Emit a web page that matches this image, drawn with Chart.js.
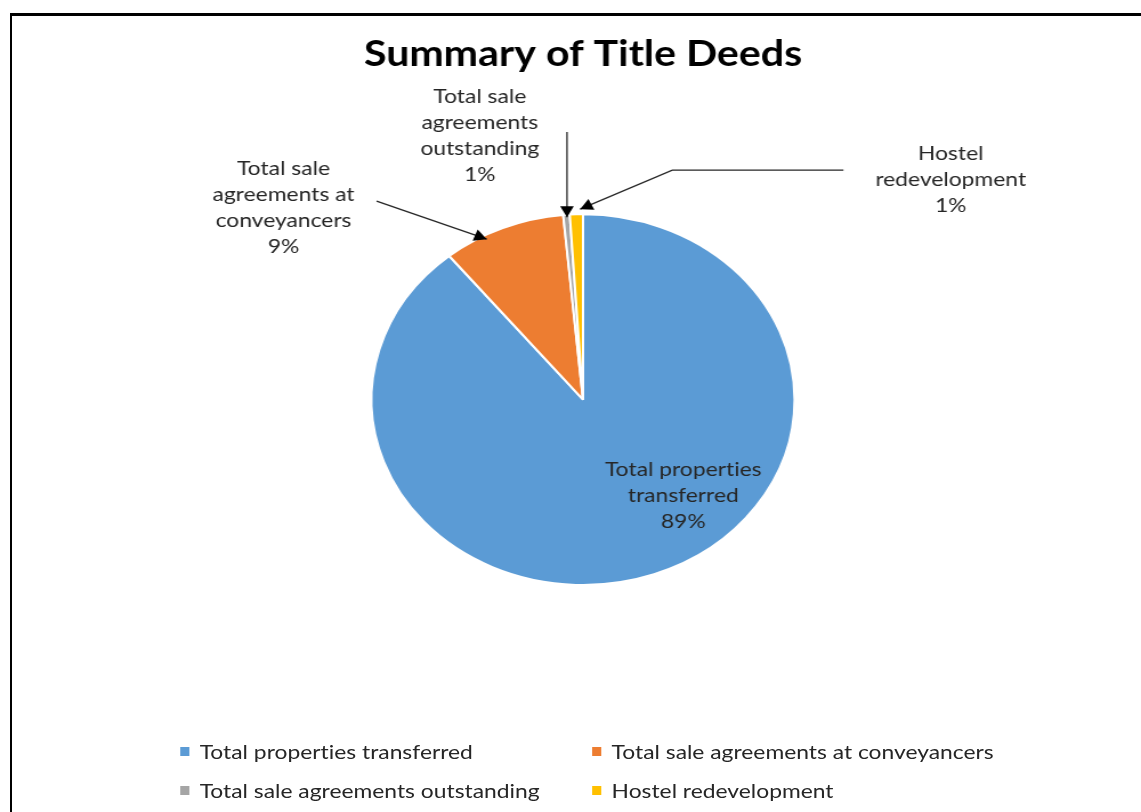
<!DOCTYPE html>
<html>
<head>
<meta charset="utf-8">
<script src="https://cdn.jsdelivr.net/npm/chart.js@4/dist/chart.umd.min.js"></script>
<style>
  html, body { margin: 0; padding: 0; background: #fff; }
  body { width: 1141px; height: 812px; overflow: hidden; position: relative; }
  .frame { position: absolute; left: 10px; top: 13px; right: -10px; bottom: -10px;
           border-top: 3px solid #000; border-left: 2px solid #000; }
  .stretch { position: absolute; left: 0; top: 0; width: 1000px; height: 812px;
             transform: scaleX(1.141); transform-origin: 0 0; }
  #chart { position: absolute; left: 0; top: 0; }
  .legend { position: absolute; top: 740px; left: 158px; display: grid;
            grid-template-columns: 361px auto; row-gap: 17px; font-variant-ligatures: none;
            font-family: Lato, "Noto Sans", sans-serif; font-size: 20px; color: #262626; }
  .legend .item { display: flex; align-items: center; height: 22px; }
  .legend .box { width: 8px; height: 9px; margin-right: 9px; }
</style>
</head>
<body>
<div class="stretch">
  <canvas id="chart" width="1000" height="600"></canvas>
  <div class="legend" id="legend"></div>
</div>
<div class="frame"></div>
<script>
// data
const categories = ["Total properties transferred", "Total sale agreements at conveyancers",
                    "Total sale agreements outstanding", "Hostel redevelopment"];
const shares = [89.1, 9.4, 0.5, 1.0];
const colours = ["#5B9BD5", "#ED7D31", "#A5A5A5", "#FFC000"];

// label placement (in units of the pie radius, from the centre)
const callouts = [
  { lines: ["Total properties", "transferred"], dx: 0.474, dy: 0.519, leader: null },
  { lines: ["Total sale", "agreements at", "conveyancers"], dx: -1.416, dy: -1.038,
    leader: [[-0.976, -1.070], [-0.455, -0.865]] },
  { lines: ["Total sale", "agreements", "outstanding"], dx: -0.488, dy: -1.422,
    leader: [[-0.076, -1.443], [-0.076, -0.984]] },
  { lines: ["Hostel", "redevelopment"], dx: 1.738, dy: -1.189,
    leader: [[1.231, -1.238], [0.422, -1.238], [-0.014, -1.027]] }
];

const total = shares.reduce((a, b) => a + b, 0);

const calloutPlugin = {
  id: 'callouts',
  afterDatasetsDraw(chart) {
    const ctx = chart.ctx;
    const arcs = chart.getDatasetMeta(0).data;
    ctx.save();
    arcs.forEach((arc, i) => {
      const c = callouts[i];
      const r = arc.outerRadius, cx = arc.x, cy = arc.y;
      if (c.leader) {
        const pts = c.leader.map(p => [cx + p[0] * r, cy + p[1] * r]);
        ctx.strokeStyle = '#262626';
        ctx.lineWidth = 1.3;
        ctx.beginPath();
        pts.forEach((p, k) => k ? ctx.lineTo(p[0], p[1]) : ctx.moveTo(p[0], p[1]));
        ctx.stroke();
        // arrow head
        const a = pts[pts.length - 2], b = pts[pts.length - 1];
        const ang = Math.atan2(b[1] - a[1], b[0] - a[0]);
        const len = 11, hw = 6;
        ctx.fillStyle = '#000';
        ctx.beginPath();
        ctx.moveTo(b[0], b[1]);
        ctx.lineTo(b[0] - len * Math.cos(ang) + hw * Math.sin(ang), b[1] - len * Math.sin(ang) - hw * Math.cos(ang));
        ctx.lineTo(b[0] - len * Math.cos(ang) - hw * Math.sin(ang), b[1] - len * Math.sin(ang) + hw * Math.cos(ang));
        ctx.closePath();
        ctx.fill();
      }
      const lines = c.lines.concat([Math.round(shares[i] / total * 100) + '%']);
      ctx.font = '20px Lato, "Noto Sans", sans-serif';
      ctx.letterSpacing = '0.01px'; // no "ti" ligature
      ctx.fillStyle = '#262626';
      ctx.textAlign = 'center';
      ctx.textBaseline = 'middle';
      const lh = 26;
      const x = cx + c.dx * r;
      const y0 = cy + c.dy * r - (lines.length - 1) * lh / 2;
      lines.forEach((t, k) => ctx.fillText(t, x, y0 + k * lh));
    });
    ctx.restore();
  }
};

new Chart(document.getElementById('chart'), {
  type: 'pie',
  data: {
    labels: categories,
    datasets: [{
      data: shares,
      backgroundColor: colours,
      borderColor: '#fff',
      borderWidth: 2
    }]
  },
  options: {
    responsive: false,
    animation: false,
    layout: { padding: { left: 22, right: 0, bottom: 14 } },
    plugins: {
      legend: { display: false },
      tooltip: { enabled: false },
      title: {
        display: true,
        text: 'Summary of Title Deeds',
        color: '#000',
        font: { family: 'Lato, "Noto Sans", sans-serif', size: 36, weight: 'bold' },
        padding: { top: 33, bottom: 137 }
      }
    }
  },
  plugins: [calloutPlugin]
});

// legend (two columns, like the original)
const legendEl = document.getElementById('legend');
categories.forEach((name, i) => {
  const item = document.createElement('div');
  item.className = 'item';
  item.innerHTML = `<span class="box" style="background:${colours[i]}"></span><span>${name}</span>`;
  legendEl.appendChild(item);
});
</script>
</body>
</html>
